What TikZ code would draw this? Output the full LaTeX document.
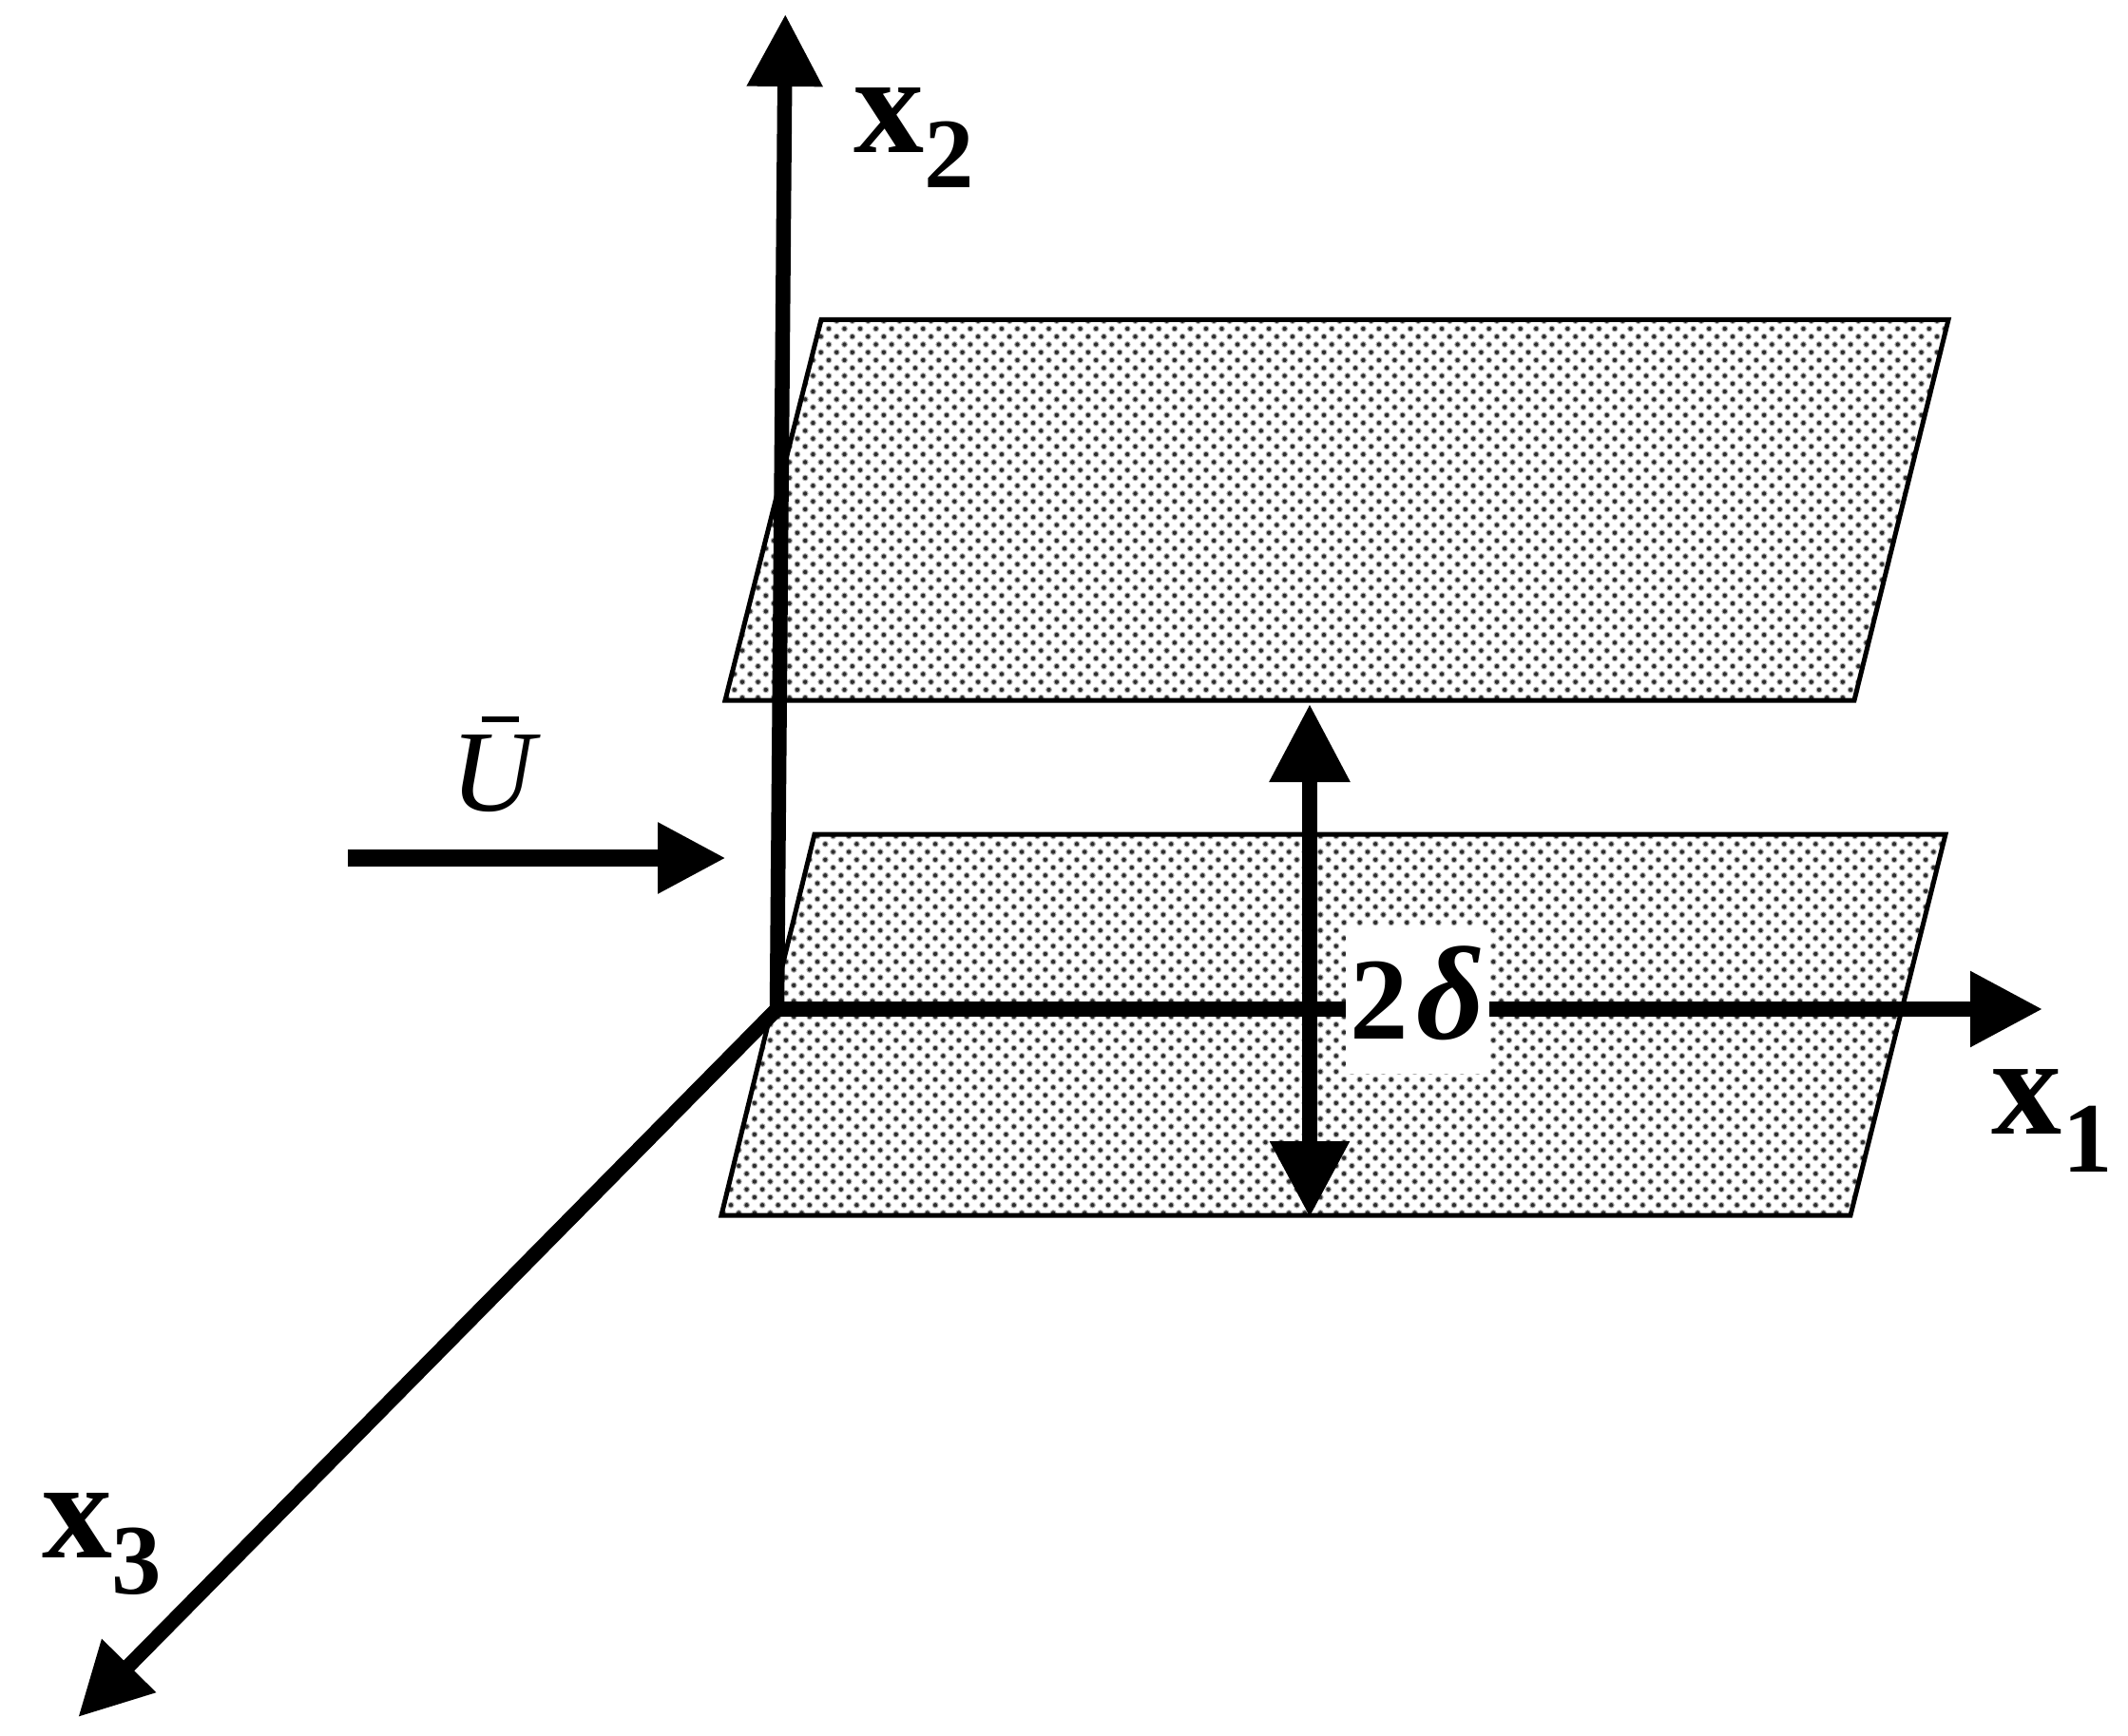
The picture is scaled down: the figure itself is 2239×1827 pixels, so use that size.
\documentclass[tikz,border=0pt]{standalone}
\usepackage{fontspec}
\setmainfont{Liberation Serif}
\usetikzlibrary{arrows.meta,patterns}
\definecolor{dotouter}{gray}{0.68}
\definecolor{dotinner}{gray}{0.18}
\newcommand{\dottile}[3]{%
  \pgfdeclarepatterninherentlycolored{#1}
  {\pgfpoint{#2pt-4.13pt}{#3pt-4.13pt}}{\pgfpoint{#2pt+12.41pt}{#3pt+12.39pt}}
  {\pgfqpoint{16.54pt}{16.52pt}}
  {%
    \pgfsetfillcolor{dotouter}%
    \pgfpathcircle{\pgfpoint{#2pt}{#3pt}}{3.4pt}%
    \pgfpathcircle{\pgfpoint{#2pt+8.27pt}{#3pt+8.26pt}}{3.4pt}%
    \pgfusepath{fill}%
    \pgfsetfillcolor{dotinner}%
    \pgfpathcircle{\pgfpoint{#2pt}{#3pt}}{2.2pt}%
    \pgfpathcircle{\pgfpoint{#2pt+8.27pt}{#3pt+8.26pt}}{2.2pt}%
    \pgfusepath{fill}%
  }%
}
\dottile{uppertile}{3.63}{2.46}
\dottile{lowertile}{8.22}{13.58}
\tikzset{
  plateedge/.style={draw=black,line width=5pt,line join=miter},
  axisline/.style={draw=black,line width=15.5pt,line cap=butt},
  tipA/.style={-{Triangle[length=76pt,width=76pt]}},
  lab/.style={anchor=base west,inner sep=0pt,text=black},
  bigx/.style={lab,font=\fontsize{148}{150}\selectfont\bfseries},
  subx/.style={lab,font=\fontsize{105}{110}\selectfont\bfseries}
}
\begin{document}
\begin{tikzpicture}[x=1pt,y=-1pt]
\useasboundingbox (0,0) rectangle (2239,1827);
\fill[white] (0,0) rectangle (2239,1827);
% coordinates
\coordinate (O) at (817.5,1062);
\coordinate (x2tip) at (826.3,15);
\coordinate (x1tip) at (2149,1062);
\coordinate (x3tip) at (82.3,1807);
\coordinate (Ustart) at (366,903);
\coordinate (Utip) at (764,903);
\coordinate (Dtop) at (1378,741);
\coordinate (Dbot) at (1378,1281);
% upper plate
\coordinate (ua) at (864,336.5);
\coordinate (ub) at (2050,336.5);
\coordinate (uc) at (1951,737);
\coordinate (ud) at (763,737);
\fill[pattern=uppertile] (ua) -- (ub) -- (uc) -- (ud) -- cycle;
\draw[plateedge] (ua) -- (ub) -- (uc) -- (ud) -- cycle;
% lower plate
\coordinate (la) at (857,878);
\coordinate (lb) at (2047,878);
\coordinate (lc) at (1947,1279);
\coordinate (ld) at (759,1279);
\fill[pattern=lowertile] (la) -- (lb) -- (lc) -- (ld) -- cycle;
\draw[plateedge] (la) -- (lb) -- (lc) -- (ld) -- cycle;
% axes
\draw[axisline,tipA] (O) -- (x2tip);
\draw[axisline,tipA] (O) -- (x3tip);
\draw[axisline,tipA] (O) -- (x1tip);
\draw[draw=black,line width=18pt,-{Triangle[length=72pt,width=70pt]}] (Ustart) -- (Utip);
\draw[draw=black,line width=16pt,{Triangle[length=80pt,width=80pt]}-{Triangle[length=82pt,width=81pt]}] (Dbot) -- (Dtop);
% 2 delta
\node[fill=white,inner sep=0pt,minimum width=151pt,minimum height=155pt] (box) at (1491.5,1052.5) {};
\node[lab,font=\fontsize{123}{125}\selectfont\bfseries] (two) at (1420,1093) {2};
\node[lab,font=\fontsize{140}{145}\selectfont\bfseries\itshape] (delta) at (1490,1093) {δ};
% labels
\node[bigx] (lx2) at (898,161) {x};
\node[subx] (s2) at (972,198) {2};
\node[bigx] (lx1) at (2095,1193) {x};
\node[subx] (s1) at (2170,1233) {1};
\node[bigx] (lx3) at (44,1639) {x};
\node[subx] (s3) at (117,1677) {3};
\node[lab,font=\fontsize{122}{130}\selectfont\itshape] (U) at (474,853) {U};
\fill[black] (507,754) rectangle (546,760);
\end{tikzpicture}
\end{document}
